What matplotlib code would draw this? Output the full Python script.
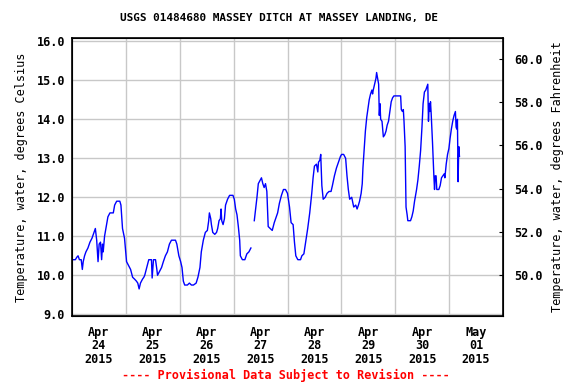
import matplotlib
matplotlib.use("Agg")
import matplotlib.pyplot as plt
from matplotlib.ticker import MultipleLocator, FixedLocator, FixedFormatter

# ---- data (hours since Apr 24 2015 00:00, water temperature degC) ----
seg1_hours = [0.0, 1.5, 2.1, 2.7, 3.3, 4.1, 4.6, 5.0, 5.6, 6.2, 7.1, 8.0, 8.9, 9.8, 10.4,
              11.0, 11.6, 12.1, 12.7, 13.2, 13.6, 13.9, 14.5, 15.1, 16.0, 16.9, 18.4, 19.0,
              19.9, 21.3, 21.8, 22.5, 23.4, 24.3, 25.2, 26.1, 27.0, 27.9, 28.7, 29.3, 29.9,
              30.5, 31.4, 32.0, 32.4, 33.3, 34.2, 35.4, 35.7, 36.3, 37.2, 37.8, 38.1, 39.0,
              39.9, 40.7, 41.6, 42.5, 43.4, 44.3, 46.1, 46.7, 47.6, 48.4, 49.0, 49.6, 50.2,
              51.4, 52.3, 53.2, 54.1, 55.3, 56.1, 57.0, 57.6, 58.5, 59.4, 60.3, 60.9, 61.2,
              61.8, 62.1, 62.7, 63.6, 64.4, 64.9, 65.5, 66.1, 66.4, 66.7, 67.3, 67.9, 68.4,
              69.3, 70.2, 71.7, 72.3, 72.9, 73.5, 74.1, 74.7, 75.0, 75.9, 77.0, 77.9, 78.8,
              79.7]
seg1_temps = [10.4, 10.4, 10.46, 10.5, 10.4, 10.4, 10.15, 10.35, 10.5, 10.6, 10.7, 10.85,
              10.95, 11.1, 11.2, 10.9, 10.35, 10.8, 10.85, 10.4, 10.8, 10.6, 11.0, 11.2, 11.5,
              11.6, 11.6, 11.8, 11.9, 11.9, 11.8, 11.2, 10.95, 10.35, 10.25, 10.15, 9.95, 9.9,
              9.85, 9.8, 9.65, 9.8, 9.9, 9.95, 10.0, 10.2, 10.4, 10.4, 9.93, 10.4, 10.4, 10.15,
              10.0, 10.1, 10.2, 10.35, 10.5, 10.6, 10.8, 10.9, 10.9, 10.8, 10.5, 10.35, 10.2,
              9.85, 9.75, 9.75, 9.8, 9.75, 9.75, 9.8, 9.95, 10.2, 10.6, 10.9, 11.1, 11.15,
              11.4, 11.6, 11.45, 11.3, 11.1, 11.05, 11.1, 11.2, 11.4, 11.45, 11.7, 11.4, 11.3,
              11.45, 11.8, 11.95, 12.05, 12.05, 11.95, 11.7, 11.55, 11.25, 10.9, 10.5, 10.4,
              10.4, 10.55, 10.6, 10.7]

seg2_hours = [81.2, 81.8, 82.4, 83.0, 83.9, 84.4, 85.0, 85.6, 86.2, 86.8, 87.4, 88.3, 89.2,
              90.1, 90.7, 91.6, 92.4, 93.3, 94.2, 95.1, 96.0, 96.9, 97.6, 98.5, 99.1, 99.7,
              100.6, 101.8, 102.4, 103.3, 104.1, 105.0, 105.9, 106.8, 107.4, 108.0, 108.9,
              109.5, 109.8, 110.4, 110.8, 111.3, 111.9, 112.8, 113.6, 114.5, 115.4, 116.0,
              116.9, 117.8, 118.7, 119.6, 120.1, 121.0, 121.9, 122.5, 123.1, 123.7, 124.6,
              125.5, 126.4, 127.0, 127.6, 128.1, 128.8, 129.3, 129.6, 130.1, 130.7, 131.3,
              131.9, 132.4, 133.0, 133.6, 133.9, 134.2, 134.8, 135.4, 135.7, 136.0, 136.6,
              136.9, 137.2, 137.5, 138.1, 138.7, 139.3, 139.9, 140.4, 141.0, 141.6, 142.2,
              142.8, 143.4, 146.4, 146.7, 147.2, 147.6, 147.9, 148.4, 148.8, 149.3, 149.6,
              150.8, 151.4, 152.0, 152.6, 153.5, 154.1, 154.7, 155.3, 155.9, 156.4, 157.0,
              157.6, 158.2, 158.5, 158.8, 159.1, 159.4, 159.7, 160.0, 160.6, 161.2, 161.5,
              161.8, 162.2, 162.5, 163.4, 164.0, 164.6, 165.2, 165.8, 166.1, 166.7, 167.3,
              167.9, 168.4, 169.0, 169.6, 170.2, 170.8, 171.1, 171.4, 171.7, 172.0, 172.3,
              172.6]
seg2_temps = [11.4, 11.7, 12.0, 12.35, 12.45, 12.5, 12.35, 12.25, 12.35, 12.15, 11.25, 11.2,
              11.15, 11.35, 11.45, 11.6, 11.85, 12.05, 12.2, 12.2, 12.1, 11.75, 11.35, 11.3,
              10.85, 10.5, 10.4, 10.4, 10.5, 10.55, 10.85, 11.2, 11.6, 12.1, 12.5, 12.8, 12.85,
              12.65, 12.9, 12.95, 13.1, 12.3, 11.95, 12.0, 12.1, 12.15, 12.15, 12.3, 12.55,
              12.75, 12.9, 13.05, 13.1, 13.1, 13.0, 12.55, 12.2, 11.95, 12.0, 11.75, 11.8,
              11.7, 11.8, 11.9, 12.1, 12.35, 12.75, 13.2, 13.7, 14.05, 14.3, 14.5, 14.65,
              14.75, 14.65, 14.75, 14.9, 15.05, 15.2, 15.1, 14.9, 14.1, 14.4, 14.0, 13.95,
              13.55, 13.6, 13.7, 13.85, 13.95, 14.2, 14.45, 14.55, 14.6, 14.6, 14.25, 14.2,
              14.25, 13.95, 13.3, 11.75, 11.55, 11.4, 11.4, 11.5, 11.65, 11.9, 12.2, 12.45,
              12.8, 13.2, 13.8, 14.4, 14.7, 14.75, 14.85, 14.9, 13.95, 14.4, 14.2, 14.45,
              14.15, 13.4, 12.55, 12.2, 12.55, 12.55, 12.2, 12.2, 12.3, 12.5, 12.55, 12.6,
              12.5, 12.85, 13.1, 13.25, 13.5, 13.75, 13.95, 14.1, 14.2, 13.8, 13.75, 14.0,
              12.4, 13.3, 13.05]

day_labels = ["Apr\n24\n2015", "Apr\n25\n2015", "Apr\n26\n2015", "Apr\n27\n2015",
              "Apr\n28\n2015", "Apr\n29\n2015", "Apr\n30\n2015", "May\n01\n2015"]
title = "USGS 01484680 MASSEY DITCH AT MASSEY LANDING, DE"
left_label = "Temperature, water, degrees Celsius"
right_label = "Temperature, water, degrees Fahrenheit"
footer = "---- Provisional Data Subject to Revision ----"

FONT = "DejaVu Sans Mono"
plt.rcParams["font.family"] = FONT
plt.rcParams["font.weight"] = "bold"

fig = plt.figure(figsize=(5.76, 3.84), dpi=100)
ax = fig.add_axes([72 / 576, 1 - 316 / 384, (503 - 72) / 576, (316 - 38) / 384])

ax.plot(seg1_hours, seg1_temps, color="#0000ff", lw=1.0)
ax.plot(seg2_hours, seg2_temps, color="#0000ff", lw=1.0)

ymin, ymax = 8.956, 16.085
ax.set_xlim(0, 192)
ax.set_ylim(ymin, ymax)

ax.yaxis.set_major_locator(MultipleLocator(1.0))
ax.yaxis.set_major_formatter(plt.FormatStrFormatter("%.1f"))
ax.xaxis.set_major_locator(FixedLocator([24 * i for i in range(1, 8)]))
ax.xaxis.set_major_formatter(FixedFormatter([""] * 7))
ax.xaxis.set_minor_locator(FixedLocator([12 + 24 * i for i in range(8)]))
ax.xaxis.set_minor_formatter(FixedFormatter(day_labels))
ax.tick_params(axis="x", which="both", length=0, labelsize=8.5, pad=7)
ax.tick_params(axis="y", length=0, labelsize=8.5, pad=5)
for lab in ax.get_xticklabels(minor=True):
    lab.set_linespacing(1.05)
ax.grid(True, which="major", color="#c8c8c8", lw=1.0)
ax.set_axisbelow(True)
for s in ax.spines.values():
    s.set_linewidth(1.2)

ax.set_ylabel(left_label, fontsize=8.5, labelpad=6)

ax2 = ax.twinx()
ax2.set_ylim(ymin * 1.8 + 32, ymax * 1.8 + 32)
ax2.yaxis.set_major_locator(MultipleLocator(2.0))
ax2.yaxis.set_major_formatter(plt.FormatStrFormatter("%.1f"))
ax2.tick_params(axis="y", direction="in", length=3, labelsize=8.5, pad=8)
ax2.set_ylabel(right_label, fontsize=8.5, labelpad=6)

fig.text(279 / 576, 1 - 18 / 384, title, ha="center", va="center", fontsize=7.9)
fig.text(286 / 576, 1 - 375 / 384, footer, ha="center", va="center", fontsize=8.5, color="red")

fig.savefig("out.png", dpi=100)
